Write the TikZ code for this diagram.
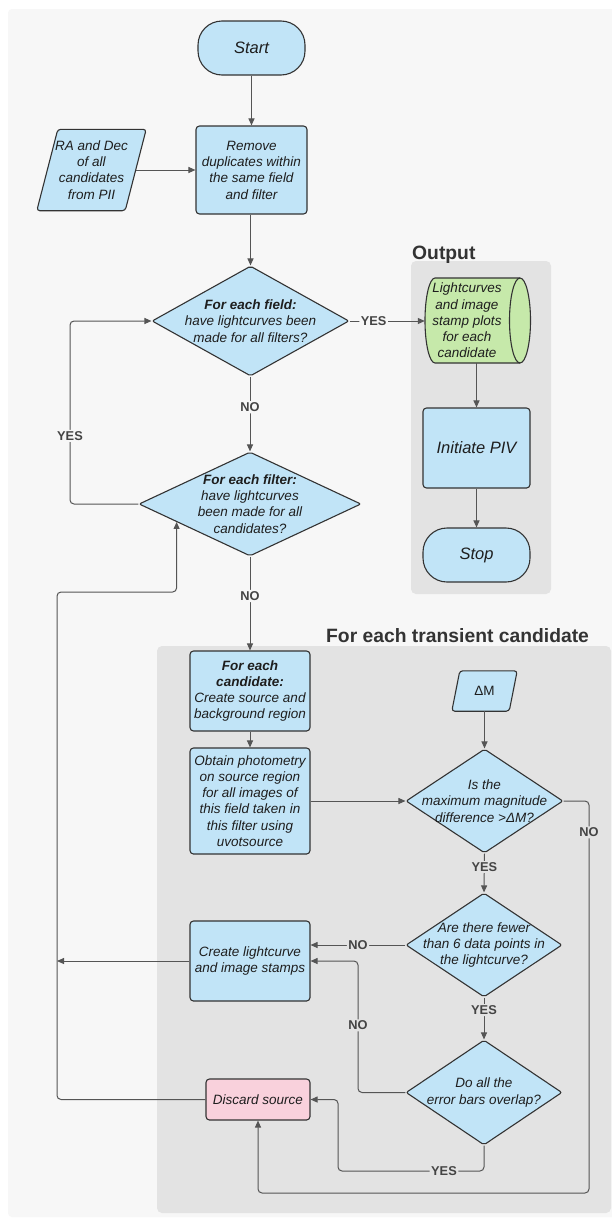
\documentclass[tikz,border=0pt]{standalone}
\usepackage{fontspec}
\setmainfont{Liberation Sans}
\usetikzlibrary{shapes.geometric,arrows.meta,calc}
\definecolor{outerbg}{HTML}{F7F7F7}
\definecolor{innerbg}{HTML}{E3E3E3}
\definecolor{boxblue}{HTML}{C1E4F7}
\definecolor{boxgreen}{HTML}{C6E9AA}
\definecolor{boxpink}{HTML}{F9D1DC}
\definecolor{edgec}{HTML}{333333}
\definecolor{wire}{HTML}{555555}
\definecolor{txt}{HTML}{1E1E1E}
\definecolor{lbltxt}{HTML}{444444}
\begin{document}
\begin{tikzpicture}[x=1pt,y=-1pt,
 proc/.style={draw=edgec,fill=boxblue,line width=1.1pt,rounded corners=3.5pt,align=center,inner sep=2pt,text=txt,font=\fontsize{13.5}{16.3}\selectfont\itshape},
 term/.style={proc,rounded corners=24pt,font=\fontsize{16.5}{19}\selectfont\itshape},
 dshape/.style={diamond,draw=edgec,fill=boxblue,line width=1.1pt,inner sep=0pt,rounded corners=2pt},
 dtext/.style={align=center,text=txt,inner sep=0pt,font=\fontsize{13.5}{16.3}\selectfont\itshape},
 shapeline/.style={draw=edgec,line width=1.1pt},
 conn/.style={draw=wire,line width=1pt,rounded corners=4pt},
 arr/.style={conn,-{Triangle[length=7pt,width=6pt]}},
 lbl/.style={fill=outerbg,text=lbltxt,font=\fontsize{12.8}{14}\selectfont\bfseries,inner sep=1.5pt},
 lbli/.style={lbl,fill=innerbg},
 title/.style={text=edgec,font=\fontsize{19.3}{22}\selectfont\bfseries,inner sep=0pt,anchor=base west},
]
\useasboundingbox (0,0) rectangle (612,1218);
\fill[white] (0,0) rectangle (612,1218);
\fill[outerbg,rounded corners=4pt] (8,9) rectangle (618,1217);
\fill[innerbg,rounded corners=5pt] (411,261) rectangle (551,594);
\fill[innerbg,rounded corners=5pt] (157,646) rectangle (611,1213);
\node[title] (tout) at (412,259) {Output};
\node[title] (ttr) at (326,642) {For each transient candidate};

% top part
\node[term,minimum width=107pt,minimum height=54pt] (start) at (251.5,48) {Start};
\node[proc,minimum width=111pt,minimum height=88pt] (remove) at (251.5,170) {Remove\\duplicates within\\the same field\\and filter};
\node[inner sep=0pt,minimum width=88pt,minimum height=81pt] (ra) at (91.5,170) {};
\draw[shapeline,fill=boxblue,rounded corners=3pt] ($(ra.north west)+(10.5,0)$) -- ($(ra.north east)+(10.5,0)$) -- ($(ra.south east)+(-10.5,0)$) -- ($(ra.south west)+(-10.5,0)$) -- cycle;
\node[dtext] (ratext) at (ra) {RA and Dec\\of all\\candidates\\from PII};

\node[dshape,minimum width=197pt,minimum height=110pt] (d1) at (250.5,321) {};
\node[dtext] (d1t) at (d1) {\textbf{For each field:}\\have lightcurves been\\made for all filters?};
\node[dshape,minimum width=222pt,minimum height=104pt] (d2) at (250,504) {};
\node[dtext] (d2t) at (d2) {\textbf{For each filter:}\\have lightcurves\\been made for all\\candidates?};

% output column
\node[inner sep=0pt,minimum width=106pt,minimum height=85pt] (cyl) at (478,320.5) {};
\draw[shapeline,fill=boxgreen] (435,278) -- (520,278) arc[start angle=90,end angle=-90,x radius=10.5pt,y radius=42.5pt] -- (435,363) arc[start angle=270,end angle=90,x radius=10pt,y radius=42.5pt] -- cycle;
\draw[shapeline] (520,363) arc[start angle=270,end angle=90,x radius=10.5pt,y radius=42.5pt];
\node[dtext] (cylt) at (467,320.5) {Lightcurves\\and image\\stamp plots\\for each\\candidate};
\node[proc,minimum width=107pt,minimum height=80pt,font=\fontsize{16.5}{19}\selectfont\itshape] (piv) at (476.5,448) {Initiate PIV};
\node[term,minimum width=107pt,minimum height=54pt] (stop) at (476.5,555) {Stop};

% transient candidate section
\node[proc,minimum width=120pt,minimum height=80pt] (cand) at (250,691) {\textbf{For each}\\\textbf{candidate:}\\Create source and\\background region};
\node[proc,minimum width=120pt,minimum height=106pt] (obtain) at (250,801) {Obtain photometry\\on source region\\for all images of\\this field taken in\\this filter using\\uvotsource};
\node[proc,minimum width=120pt,minimum height=80pt] (create) at (250,961) {Create lightcurve\\and image stamps};
\node[proc,fill=boxpink,minimum width=104pt,minimum height=41pt] (dis) at (258,1099.5) {Discard source};

\node[inner sep=0pt,minimum width=57pt,minimum height=40pt] (dm) at (484.5,691) {};
\draw[shapeline,fill=boxblue,rounded corners=3pt] ($(dm.north west)+(4,0)$) -- ($(dm.north east)+(4,0)$) -- ($(dm.south east)+(-4,0)$) -- ($(dm.south west)+(-4,0)$) -- cycle;
\node[dtext,font=\fontsize{13.5}{16.3}\selectfont] (dmt) at (dm) {ΔM};

\node[dshape,minimum width=157pt,minimum height=104pt] (d3) at (484.5,801) {};
\node[dtext] (d3t) at (d3) {Is the\\maximum magnitude\\difference >ΔM?};
\node[dshape,minimum width=156pt,minimum height=104pt] (d4) at (484,945) {};
\node[dtext] (d4t) at (d4) {Are there fewer\\than 6 data points in\\the lightcurve?};
\node[dshape,minimum width=156pt,minimum height=105pt] (d5) at (484,1092.5) {};
\node[dtext] (d5t) at (d5) {Do all the\\error bars overlap?};

% connectors
\draw[arr] (start.south) -- (remove.north);
\draw[arr] (ra.east) -- (remove.west);
\draw[arr] (d1.north |- remove.south) -- (d1.north);
\draw[arr] (d1.east) -- (d1.east -| cyl.west) node[lbl,pos=0.32] {YES};
\draw[arr] (piv.north |- cyl.south) -- (piv.north);
\draw[arr] (piv.south) -- (stop.north);
\draw[arr] (d2.north |- d1.south) -- (d2.north) node[lbl,pos=0.41] {NO};
\coordinate (ylp) at (70,321);
\draw[arr] (d2.west) -| (ylp) node[lbl,pos=0.686] {YES} -- (d1.west);
\draw[arr] (d2.south) -- (cand.north) node[lbl,pos=0.42] {NO};
\draw[arr] (cand.south) -- (obtain.north);
\draw[arr] (obtain.east) -- (d3.west);
\draw[arr] (dm.south) -- (d3.north);
\coordinate (nor) at (589,1193);
\draw[arr] (d3.east) -| (nor) node[lbli,pos=0.54] {NO} -| (dis.south);
\draw[arr] (d3.south) -- (d4.north) node[lbli,pos=0.35] {YES};
\draw[arr] (d4.west) -- (d4.west -| create.east) node[lbli,midway] {NO};
\draw[arr] (d4.south) -- (d5.north) node[lbli,pos=0.3] {YES};
\coordinate (no2) at (358,961);
\draw[arr] (d5.west) -| (no2) node[lbli,pos=0.755] {NO} -- (create.east);
\coordinate (yes3) at (338,1171);
\draw[arr] (d5.south) |- (yes3) node[lbli,pos=0.637] {YES} |- (dis.east);
\coordinate (lx) at (57,961);
\draw[arr] (create.west) -- (lx);
\coordinate (lc) at (57,592);
\coordinate (d2in) at ($(d2.west)!0.342!(d2.south)$);
\draw[arr] (dis.west) -| (lc) -| (d2in);
\end{tikzpicture}
\end{document}
